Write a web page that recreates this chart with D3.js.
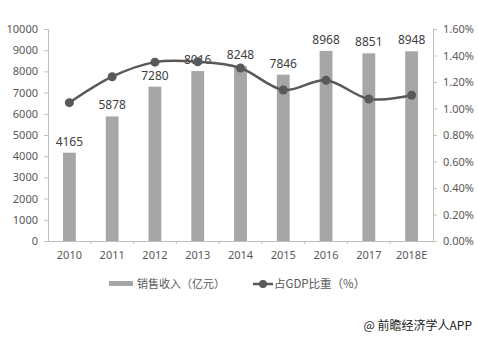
<!DOCTYPE html>
<html lang="zh">
<head>
<meta charset="UTF-8">
<title>销售收入及占GDP比重</title>
<script src="https://cdn.jsdelivr.net/npm/d3@7"></script>
<style>
  body { margin: 0; background: #fff; }
  text { font-family: "Noto Sans", "Noto Sans CJK SC", sans-serif; }
</style>
</head>
<body>
<script>
// 数据
var years = ["2010", "2011", "2012", "2013", "2014", "2015", "2016", "2017", "2018E"];
var revenue = [4165, 5878, 7280, 8016, 8248, 7846, 8968, 8851, 8948];
var gdpShare = [1.044, 1.24, 1.35, 1.353, 1.306, 1.14, 1.213, 1.072, 1.10];
var leftTicks = [0, 1000, 2000, 3000, 4000, 5000, 6000, 7000, 8000, 9000, 10000];
var rightTicks = [0, 0.2, 0.4, 0.6, 0.8, 1.0, 1.2, 1.4, 1.6];

var W = 478, H = 337;
var pad = {top: 29, bottom: 96, left: 48, right: 45};

var svg = d3.select("body").append("svg")
    .attr("width", W).attr("height", H);

var x = d3.scaleBand().domain(years).range([pad.left, W - pad.right]);
var yL = d3.scaleLinear().domain([0, 10000]).range([H - pad.bottom, pad.top]);
var yR = d3.scaleLinear().domain([0, 1.6]).range([H - pad.bottom, pad.top]);

var axisColor = "#bfbfbf", textColor = "#595959";

// 左轴
var gL = svg.append("g").attr("transform", "translate(" + pad.left + ",0)")
    .call(d3.axisLeft(yL).tickValues(leftTicks).tickSize(4).tickPadding(6)
        .tickFormat(d3.format("d")));
// 右轴
var gR = svg.append("g").attr("transform", "translate(" + (W - pad.right) + ",0)")
    .call(d3.axisRight(yR).tickValues(rightTicks).tickSize(4).tickPadding(6)
        .tickFormat(function (d) { return d.toFixed(2) + "%"; }));
// 底轴
var gB = svg.append("g").attr("transform", "translate(0," + (H - pad.bottom) + ")")
    .call(d3.axisBottom(x).tickSize(0).tickPadding(10));

[gL, gR, gB].forEach(function (g) {
    g.selectAll("path, line").attr("stroke", axisColor);
    g.selectAll("text").attr("fill", textColor).style("font-size", "11px");
});
gB.select(".domain").attr("d", "M" + pad.left + ",0.5H" + (W - pad.right));
// 类别之间的小刻度
gB.selectAll(".sep").data(years.slice(1)).enter().append("line")
    .attr("x1", function (d) { return x(d); }).attr("x2", function (d) { return x(d); })
    .attr("y1", 0).attr("y2", 3).attr("stroke", axisColor);

// 柱
var bw = x.bandwidth() * 0.3;
svg.selectAll(".bar").data(revenue).enter().append("rect")
    .attr("x", function (d, i) { return x(years[i]) + x.bandwidth() / 2 - bw / 2; })
    .attr("y", function (d) { return yL(d); })
    .attr("width", bw)
    .attr("height", function (d) { return yL(0) - yL(d); })
    .attr("fill", "#a6a6a6");

// 柱顶数值
svg.selectAll(".lbl").data(revenue).enter().append("text")
    .attr("x", function (d, i) { return x(years[i]) + x.bandwidth() / 2; })
    .attr("y", function (d) { return yL(d) - 7; })
    .attr("text-anchor", "middle")
    .attr("fill", "#404040")
    .style("font-size", "12px")
    .text(function (d) { return d; });

// 折线
var line = d3.line()
    .x(function (d, i) { return x(years[i]) + x.bandwidth() / 2; })
    .y(function (d) { return yR(d); })
    .curve(d3.curveCatmullRom.alpha(0));
svg.append("path").datum(gdpShare)
    .attr("d", line).attr("fill", "none")
    .attr("stroke", "#595959").attr("stroke-width", 2.5);
svg.selectAll(".dot").data(gdpShare).enter().append("circle")
    .attr("cx", function (d, i) { return x(years[i]) + x.bandwidth() / 2; })
    .attr("cy", function (d) { return yR(d); })
    .attr("r", 4.5).attr("fill", "#595959");

// 图例
var lg = svg.append("g").attr("transform", "translate(0,284)");
lg.append("rect").attr("x", 109).attr("y", -3).attr("width", 24).attr("height", 5).attr("fill", "#a6a6a6");
lg.append("text").attr("x", 137).attr("y", 4).attr("fill", textColor)
    .style("font-size", "11px").style("font-family", "Noto Sans CJK SC").text("销售收入（亿元）");
lg.append("line").attr("x1", 253).attr("x2", 273).attr("y1", 0).attr("y2", 0)
    .attr("stroke", "#595959").attr("stroke-width", 2.5);
lg.append("circle").attr("cx", 263).attr("cy", 0).attr("r", 4).attr("fill", "#595959");
lg.append("text").attr("x", 274).attr("y", 4).attr("fill", textColor)
    .style("font-size", "11.5px").style("font-family", "Noto Sans CJK SC").text("占GDP比重（%）");

// 来源
svg.append("text").attr("x", 472).attr("y", 330).attr("text-anchor", "end")
    .attr("fill", "#222").style("font-size", "12px").style("font-family", "Noto Sans CJK SC")
    .text("@ 前瞻经济学人APP");
</script>
</body>
</html>
